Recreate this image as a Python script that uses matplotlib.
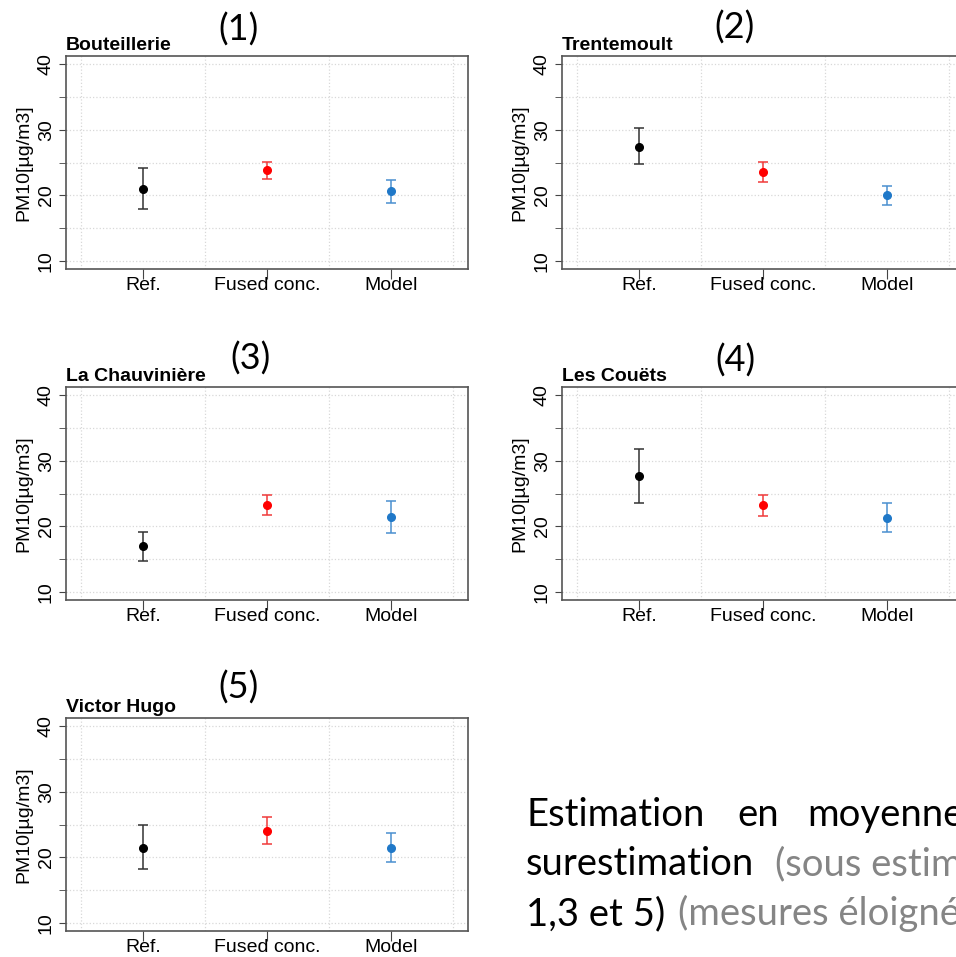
import matplotlib.pyplot as plt
import matplotlib.ticker as ticker

# Données : moyenne et bornes de l'intervalle par site
sites = ["Bouteillerie", "Trentemoult", "La Chauvinière", "Les Couëts", "Victor Hugo"]
numeros = ["(1)", "(2)", "(3)", "(4)", "(5)"]
categories = ["Ref.", "Fused conc.", "Model"]

moyenne = [
    [21.0, 23.8, 20.6],
    [27.4, 23.5, 20.0],
    [17.0, 23.3, 21.5],
    [27.6, 23.3, 21.3],
    [21.5, 24.0, 21.5],
]
borne_basse = [
    [17.95, 22.5, 18.9],
    [24.7, 22.0, 18.6],
    [14.8, 21.8, 19.0],
    [23.5, 21.6, 19.2],
    [18.2, 22.0, 19.3],
]
borne_haute = [
    [24.1, 25.1, 22.4],
    [30.2, 25.1, 21.4],
    [19.2, 24.7, 23.9],
    [31.8, 24.8, 23.5],
    [24.85, 26.1, 23.7],
]
couleurs = ["black", "#ff0000", "#1f78c8"]
couleurs_barres = ["#333333", "#f03a3a", "#4a90d0"]

W, H = 956, 957
# coin haut-gauche (px) de chaque panneau, et position du numéro
panneaux = [(66, 56), (562, 56), (66, 387), (562, 387), (66, 718)]
pos_numeros = [(239, 30), (735, 28), (250, 359), (735, 361), (239, 688)]
larg, haut = 402, 213

plt.rcParams["font.family"] = ["Liberation Sans", "DejaVu Sans"]


def dessine_panneau(fig, k):
    l, t = panneaux[k]
    ax = fig.add_axes([l / W, 1 - (t + haut) / H, larg / W, haut / H])
    x = [1, 2, 3]
    for i in range(3):
        m = moyenne[k][i]
        ax.errorbar(x[i], m,
                    yerr=[[m - borne_basse[k][i]], [borne_haute[k][i] - m]],
                    fmt="o", color=couleurs[i], ecolor=couleurs_barres[i],
                    ms=5.5, capsize=3.5, elinewidth=1.1, capthick=1.1, zorder=3)

    ax.set_xlim(0.38, 3.62)
    ax.set_ylim(8.8, 41.2)
    ax.set_xticks(x, categories)
    ax.set_xticks([0.5, 1.5, 2.5, 3.5], minor=True)
    ax.set_yticks([10, 20, 30, 40])
    ax.yaxis.set_minor_locator(ticker.MultipleLocator(5))
    ax.grid(which="both", axis="y", color="#d8d8d8", linestyle=":", linewidth=0.9)
    ax.grid(which="minor", axis="x", color="#d8d8d8", linestyle=":", linewidth=0.9)
    ax.set_axisbelow(True)

    ax.tick_params(axis="x", which="major", length=7, pad=-1, labelsize=14, color="#444444")
    ax.tick_params(axis="x", which="minor", length=0)
    ax.tick_params(axis="y", which="both", length=5, pad=3, labelsize=14, color="#444444")
    for lab in ax.get_yticklabels():
        lab.set_rotation(90)
        lab.set_va("center")

    for s in ax.spines.values():
        s.set_color("#555555")
        s.set_linewidth(1.2)

    ax.set_ylabel("PM10[µg/m3]", fontsize=14, labelpad=4)
    ax.set_title(sites[k], loc="left", fontweight="bold", fontsize=14, pad=4)

    nx, ny = pos_numeros[k]
    fig.text(nx / W, 1 - ny / H, numeros[k], fontsize=26, family=["Lato", "DejaVu Sans"],
             ha="center", va="center")


def main():
    fig = plt.figure(figsize=(W / 100, H / 100), dpi=100)

    for k in range(len(sites)):
        dessine_panneau(fig, k)

    # texte de commentaire en bas à droite (coupé par le bord, comme sur l'original)
    police = dict(fontsize=27.5, family=["Lato", "DejaVu Sans"], va="baseline")
    gris = "#858585"
    lignes = [
        [(526, "Estimation", "black"), (737, "en", "black"), (807, "moyenne", "black")],
        [(526, "surestimation", "black"), (775, "(sous estimation", gris)],
        [(526, "1,3 et 5)", "black"), (678, "(mesures éloignées", gris)],
    ]
    for y, ligne in zip([826, 875, 925], lignes):
        for x, mot, c in ligne:
            fig.text(x / W, 1 - y / H, mot, color=c, **police)

    fig.savefig("out.png", dpi=100)


if __name__ == "__main__":
    main()
